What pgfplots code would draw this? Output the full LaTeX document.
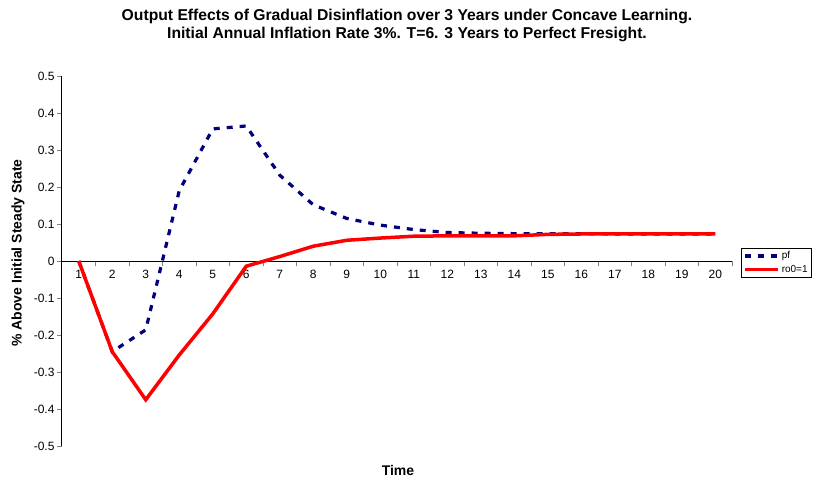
\documentclass[border=0pt]{standalone}
\usepackage{pgfplots}
\pgfplotsset{compat=1.18}
\usepackage{fontspec}
\setmainfont{Liberation Sans}
\definecolor{pfblue}{RGB}{0,0,128}
\definecolor{rored}{RGB}{255,0,0}
\begin{document}
\begin{tikzpicture}[x=1pt,y=1pt]
\useasboundingbox (-62,-37) rectangle (752,446);
\begin{axis}[
  at={(0,0)}, anchor=south west,
  scale only axis, width=670pt, height=370pt,
  xmin=0.5, xmax=20.5, ymin=-0.5, ymax=0.5,
  axis x line=middle, axis y line=left,
  axis line style={-, line width=1pt},
  xtick={1,...,20},
  minor xtick={1.5,2.5,...,20.5},
  major x tick style={draw=none},
  minor x tick style={line width=1pt},
  minor tick length=5pt,
  ytick={-0.5,-0.4,...,0.5},
  yticklabels={-0.5,-0.4,-0.3,-0.2,-0.1,0,0.1,0.2,0.3,0.4,0.5},
  y tick style={line width=1pt},
  major tick length=5pt,
  tick align=outside,
  tick label style={font=\fontsize{12}{13}\selectfont},
  /pgf/number format/assume math mode=true,
  xticklabel style={yshift=-1pt},
  yticklabel style={xshift=1pt},
  legend image code/.code={\draw[#1] (0pt,0pt) -- (33pt,0pt);},
  legend style={at={(1.014,0.536)}, anchor=north west, draw=black, line width=0.8pt,
    font=\fontsize{10}{11}\selectfont, inner sep=1.5pt, row sep=1pt,
    /tikz/every even column/.append style={column sep=0pt}},
  legend cell align=left,
  clip=false,
]
\addplot[pfblue, line width=3.2pt, dash pattern=on 6pt off 7pt] coordinates {
(1,0) (2,-0.245) (3,-0.186) (4,0.19) (5,0.357) (6,0.365) (7,0.232) (8,0.152)
(9,0.115) (10,0.097) (11,0.085) (12,0.077) (13,0.075) (14,0.074) (15,0.074)
(16,0.074) (17,0.073) (18,0.073) (19,0.073) (20,0.073)};
\addlegendentry{pf}
\addplot[rored, line width=3.5pt] coordinates {
(1,0) (2,-0.245) (3,-0.375) (4,-0.254) (5,-0.143) (6,-0.014) (7,0.012) (8,0.040)
(9,0.056) (10,0.062) (11,0.067) (12,0.068) (13,0.068) (14,0.068) (15,0.072)
(16,0.073) (17,0.073) (18,0.073) (19,0.073) (20,0.073)};
\addlegendentry{ro0=1}
\end{axis}
\node[font=\bfseries\fontsize{15.7}{18}\selectfont, align=center] at (345,421)
  {Output Effects of Gradual Disinflation over 3 Years under Concave Learning.\\
   Initial Annual Inflation Rate 3\%. T=6. 3 Years to Perfect Fresight.};
\node[font=\bfseries\fontsize{14}{16}\selectfont] at (336,-24) {Time};
\node[font=\bfseries\fontsize{14}{16}\selectfont, rotate=90] at (-44,193) {\% Above Initial Steady State};
\end{tikzpicture}
\end{document}
